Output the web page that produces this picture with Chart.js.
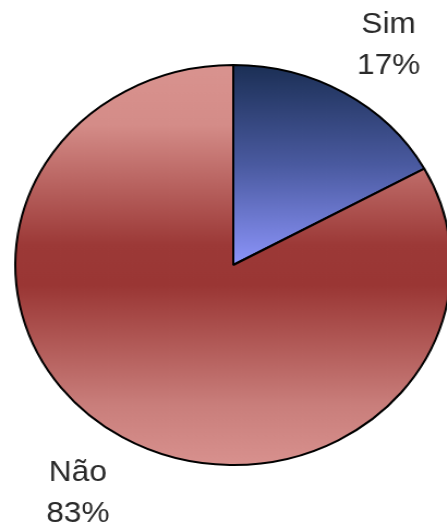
<!DOCTYPE html>
<html>
<head>
<meta charset="utf-8">
<script src="https://cdn.jsdelivr.net/npm/chart.js@4"></script>
<style>
  html, body { margin: 0; padding: 0; background: #ffffff; overflow: hidden; width: 447px; height: 524px; }
  #wrap { width: 428px; height: 524px; transform: scaleX(1.09); transform-origin: 0 0; }
  canvas { display: block; }
</style>
</head>
<body>
<div id="wrap"><canvas id="c" width="428" height="524"></canvas></div>
<script>
const categories = ['Sim', 'Não'];
const values = [17, 83];
const percentLabels = ['17%', '83%'];

const PIE_RADIUS = 200;

function sliceGradient(context) {
  const chart = context.chart;
  const area = chart.chartArea;
  if (!area) return context.dataIndex === 0 ? '#5a64b0' : '#a84a46';
  const ctx = chart.ctx;
  const cy = (area.top + area.bottom) / 2;
  const top = cy - PIE_RADIUS;
  const bottom = cy + PIE_RADIUS;
  if (context.dataIndex === 0) {
    const g = ctx.createLinearGradient(0, top, 0, cy);
    g.addColorStop(0, '#1b2f55');
    g.addColorStop(0.5, '#4a5aa0');
    g.addColorStop(1, '#8c94fa');
    return g;
  }
  const g = ctx.createLinearGradient(0, top, 0, bottom);
  g.addColorStop(0, '#d9938f');
  g.addColorStop(0.15, '#d48c88');
  g.addColorStop(0.45, '#9c3937');
  g.addColorStop(0.55, '#9a3634');
  g.addColorStop(0.85, '#c97e7b');
  g.addColorStop(1, '#d8918e');
  return g;
}

const labelPlugin = {
  id: 'outerLabels',
  afterDatasetsDraw(chart) {
    const meta = chart.getDatasetMeta(0);
    const ctx = chart.ctx;
    ctx.save();
    ctx.font = '29px "Liberation Sans", Arial, sans-serif';
    ctx.fillStyle = '#2a2a2a';
    ctx.textAlign = 'center';
    ctx.textBaseline = 'middle';
    meta.data.forEach((arc, i) => {
      const p = arc.getProps(['x', 'y', 'startAngle', 'endAngle'], true);
      const mid = (p.startAngle + p.endAngle) / 2;
      const x = p.x + 280 * Math.cos(mid);
      const y = p.y + 260 * Math.sin(mid) + 3;
      ctx.fillText(categories[i], x, y - 19);
      ctx.fillText(percentLabels[i], x, y + 22);
    });
    ctx.restore();
  }
};

new Chart(document.getElementById('c'), {
  type: 'pie',
  data: {
    labels: categories,
    datasets: [{
      data: values,
      backgroundColor: sliceGradient,
      borderColor: '#000000',
      borderWidth: 2
    }]
  },
  options: {
    responsive: false,
    devicePixelRatio: 1,
    animation: false,
    radius: PIE_RADIUS,
    layout: { padding: { top: 6, bottom: 0, left: 0, right: 0 } },
    plugins: {
      legend: { display: false },
      tooltip: { enabled: false }
    }
  },
  plugins: [labelPlugin]
});
</script>
</body>
</html>
